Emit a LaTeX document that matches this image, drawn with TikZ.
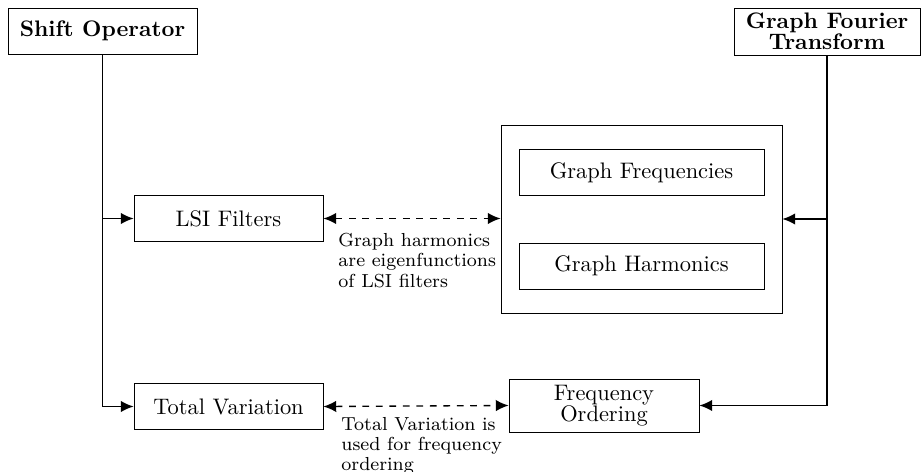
\documentclass[tikz,border=0pt]{standalone}
\usetikzlibrary{arrows.meta}
\newcommand\pxu{0.01565cm}
\tikzset{
  block/.style={draw, minimum width=189*\pxu, minimum height=46*\pxu, align=center, inner sep=2pt},
  note/.style={font=\fontsize{8.4}{9}\selectfont, align=left, anchor=north west, inner sep=0pt},
  link/.style={semithick, -{Latex[length=2mm,width=1.8mm]}},
  relation/.style={semithick, dashed, {Latex[length=2mm,width=1.8mm]}-{Latex[length=2mm,width=1.8mm]}}
}

\begin{document}
\begin{tikzpicture}[x=\pxu, y=-\pxu]
\useasboundingbox (0,0) rectangle (922,472);

% sources
\node[block, font=\bfseries] (shift) at (102.5,31) {Shift Operator};
\node[block, font=\bfseries, minimum width=186*\pxu, minimum height=47*\pxu] (gft) at (827,31.5) {Graph Fourier\\[-2.5pt]Transform};

% left column
\node[block] (lsi) at (228.5,218.5) {LSI Filters};
\node[block] (tv) at (228.5,406.5) {Total Variation};

% spectrum box
\node[draw, minimum width=281*\pxu, minimum height=188*\pxu] (spec) at (641.5,219) {};
\node[block, minimum width=245*\pxu] (freq) at (641.5,172.5) {Graph Frequencies};
\node[block, minimum width=245*\pxu] (harm) at (641.5,266) {Graph Harmonics};
\node[block, minimum width=190*\pxu, minimum height=53*\pxu] (order) at (604,405.5) {Frequency\\[-2.5pt]Ordering};

% connectors
\draw[link] (shift.south) |- (tv.west);
\draw[link] (shift.south |- lsi.west) -- (lsi.west);
\draw[link] (gft.south) |- (order.east);
\draw[link] (gft.south |- spec.east) -- (spec.east);
\draw[relation] (lsi.east) -- (lsi.east -| spec.west);
\draw[relation] (tv.east) -- (order.west);

% notes
\node[note] (harmnote) at (338,233) {Graph harmonics\\are eigenfunctions\\of LSI filters};
\node[note] (tvnote) at (341,417) {Total Variation is\\used for frequency\\ordering};
\end{tikzpicture}
\end{document}
